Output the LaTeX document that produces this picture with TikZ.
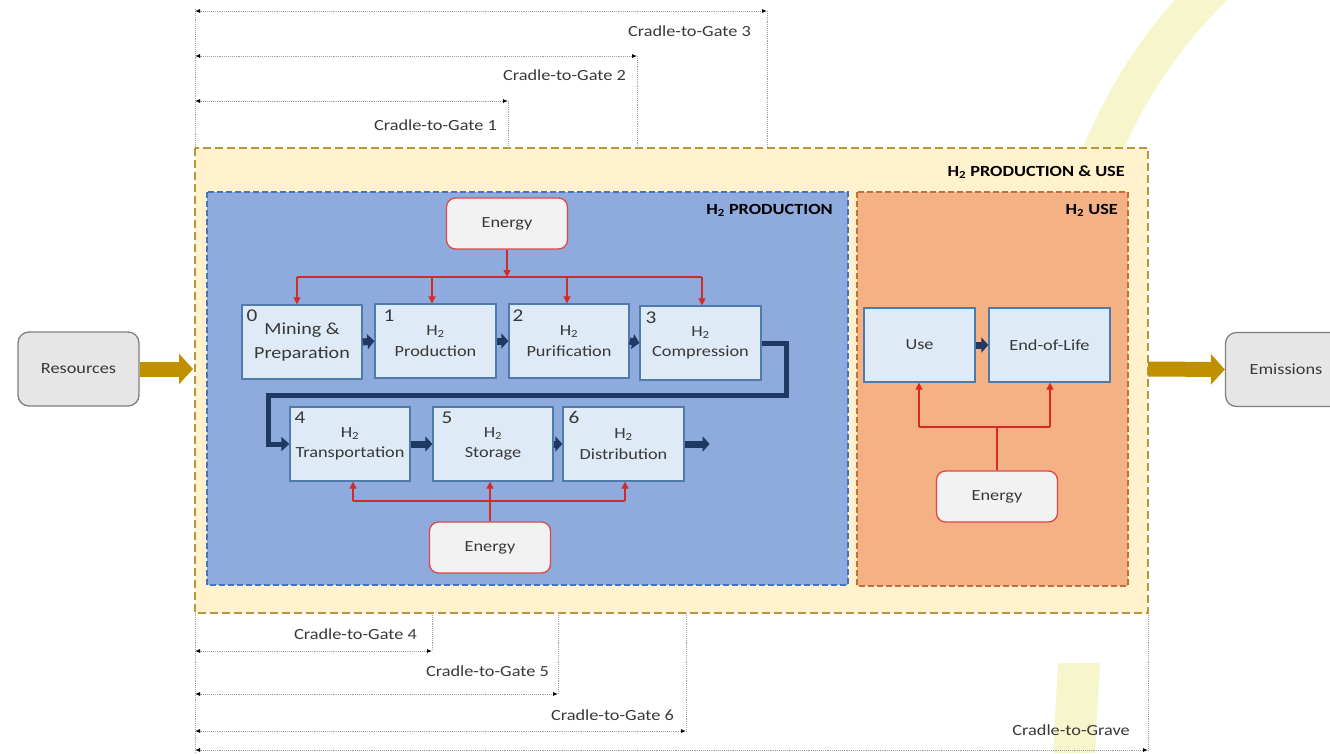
\documentclass[tikz,border=0pt]{standalone}
\usepackage{fontspec}
\setmainfont[FakeStretch=1.18]{Carlito}
\usetikzlibrary{arrows.meta,calc}
\definecolor{outerfill}{HTML}{FFF2CC}
\definecolor{outerline}{HTML}{B8963C}
\definecolor{bluefill}{HTML}{8FAADC}
\definecolor{blueline}{HTML}{4472C4}
\definecolor{orfill}{HTML}{F4B183}
\definecolor{orline}{HTML}{C0703A}
\definecolor{boxfill}{HTML}{DEEBF7}
\definecolor{boxline}{HTML}{4F7BAA}
\definecolor{enfill}{HTML}{F2F2F2}
\definecolor{enline}{HTML}{DC4848}
\definecolor{redln}{HTML}{D42A2A}
\definecolor{grayfill}{HTML}{E7E6E6}
\definecolor{grayline}{HTML}{7F7F7F}
\definecolor{gold}{HTML}{BF9000}
\definecolor{navy}{HTML}{1F3864}
\definecolor{txt}{HTML}{383838}
\definecolor{wm}{HTML}{F7F5CC}
\begin{document}
\begin{tikzpicture}[x=1pt,y=-1pt,
  every node/.style={font=\fontsize{15.5}{18.5}\selectfont, text=txt},
  procbox/.style={draw=boxline, line width=1.3pt, fill=boxfill, minimum height=74pt, inner sep=0pt, align=center, font=\fontsize{15.5}{20.5}\selectfont},
  numlbl/.style={anchor=north west, inner sep=0pt, font=\fontsize{18}{20}\selectfont, text=txt},
  enbox/.style={draw=enline, line width=1.3pt, fill=enfill, rounded corners=9pt, minimum width=121pt, minimum height=51pt},
  graybox/.style={draw=grayline, line width=1.3pt, fill=grayfill, rounded corners=11pt, minimum width=121pt, minimum height=74pt},
  redarrow/.style={draw=redln, line width=1.2pt, -{Triangle[width=7pt,length=7pt]}},
  redline/.style={draw=redln, line width=1.2pt},
  bluearrow/.style={draw=navy, line width=7pt, -{Triangle[width=15pt,length=7pt]}},
  goldarrow/.style={draw=gold, line width=15pt, -{Triangle[width=30pt,length=14pt]}},
  dimline/.style={draw=gray!75, line width=0.9pt, densely dotted},
  dimarrow/.style={dimline, {Latex[length=5pt,width=4pt,color=black]}-{Latex[length=5pt,width=4pt,color=black]}},
  dimlbl/.style={anchor=east, inner sep=0pt, text=txt, font=\fontsize{15.5}{18}\selectfont},
  hdr/.style={anchor=east, inner sep=0pt, text=black, font=\bfseries\fontsize{15.5}{18}\selectfont}
]
\useasboundingbox (0,0) rectangle (1330,753);
% faint background watermark shapes
\draw[wm, line width=38pt] (1098,160) .. controls (1128,90) and (1160,40) .. (1215,-15);
\fill[wm] (1058,663) -- (1100,663) -- (1095,753) -- (1053,753) -- cycle;

% containers
\draw[outerline, line width=1.2pt, dash pattern=on 8pt off 4pt, fill=outerfill] (195,148) rectangle (1148,613);
\draw[blueline, line width=1.2pt, dash pattern=on 6pt off 3pt, fill=bluefill] (207,192) rectangle (848,585);
\draw[orline, line width=1.2pt, dash pattern=on 6pt off 3pt, fill=orfill] (857,192) rectangle (1128,586);
\node[hdr] (hdrall) at (1125,172) {H\textsubscript{2} PRODUCTION \& USE};
\node[hdr] (hdrprod) at (833,210) {H\textsubscript{2} PRODUCTION};
\node[hdr] (hdruse) at (1118,210) {H\textsubscript{2} USE};

% process boxes
\node[procbox, minimum width=120pt, font=\fontsize{17}{24}\selectfont] (box0) at (302,342) {Mining \&\\Preparation};
\node[procbox, minimum width=121pt] (box1) at (435.5,341) {H\textsubscript{2}\\Production};
\node[procbox, minimum width=120pt] (box2) at (569,341) {H\textsubscript{2}\\Purification};
\node[procbox, minimum width=121pt] (box3) at (700.5,343) {H\textsubscript{2}\\Compression};
\node[procbox, minimum width=120pt] (box4) at (350,444) {H\textsubscript{2}\\Transportation};
\node[procbox, minimum width=120pt] (box5) at (493,444) {H\textsubscript{2}\\Storage};
\node[procbox, minimum width=121pt] (box6) at (623.5,444) {H\textsubscript{2}\\Distribution};
\node[numlbl] (n0) at ($(box0.north west)+(5,5)$) {0};
\node[numlbl] (n1) at ($(box1.north west)+(9,6)$) {1};
\node[numlbl] (n2) at ($(box2.north west)+(4,6)$) {2};
\node[numlbl] (n3) at ($(box3.north west)+(6,6)$) {3};
\node[numlbl] (n4) at ($(box4.north west)+(5,5)$) {4};
\node[numlbl] (n5) at ($(box5.north west)+(9,5)$) {5};
\node[numlbl] (n6) at ($(box6.north west)+(6,5)$) {6};

\node[procbox, minimum width=111pt] (use) at (919.5,345) {Use};
\node[procbox, minimum width=121pt] (eol) at (1049.5,345) {End-of-Life};

% energy boxes
\node[enbox] (etop) at (507,223.5) {Energy};
\node[enbox] (ebot) at (490,547.5) {Energy};
\node[enbox] (euse) at (997,496.5) {Energy};

% resources / emissions
\node[graybox] (res) at (78.5,369) {Resources};
\node[graybox] (emi) at (1286,369.5) {Emissions};

% flow arrows
\draw[bluearrow] (box0.east) -- (box1.west);
\draw[bluearrow] (box1.east) -- (box2.west);
\draw[bluearrow] (box2.east) -- (box3.west);
\draw[bluearrow] (box4.east) -- (box5.west);
\draw[bluearrow] (box5.east) -- (box6.west);
\draw[bluearrow] (use.east) -- (eol.west);
\draw[bluearrow] (box6.east) -- ++(25,0);
\draw[draw=navy, line width=5pt, -{Triangle[width=14pt,length=8pt]}, line join=miter]
  (box3.east) -- ++(25,0) -- ++(0,52) -- (268,395) |- (box4.west);

\draw[goldarrow] (res.east) -- (193,369);
\coordinate (outR) at (1148,369);
\draw[goldarrow] (outR) -- (emi.west);

% energy distribution (top)
\coordinate (jt) at (507,277);
\coordinate (j0) at (297,277);
\coordinate (j1) at (432,277);
\coordinate (j2) at (567,277);
\coordinate (j3) at (702,277);
\draw[redarrow] (etop.south) -- (jt);
\draw[redline] (j0) -- (j3);
\draw[redarrow] (j0) -- (j0 |- box0.north);
\draw[redarrow] (j1) -- (j1 |- box1.north);
\draw[redarrow] (j2) -- (j2 |- box2.north);
\draw[redarrow] (j3) -- (j3 |- box3.north);

% energy distribution (bottom)
\coordinate (k4) at (353,501);
\coordinate (k6) at (625,501);
\draw[redarrow] (ebot.north) -- (ebot.north |- box5.south);
\draw[redline] (k4) -- (k6);
\draw[redarrow] (k4) -- (k4 |- box4.south);
\draw[redarrow] (k6) -- (k6 |- box6.south);

% energy distribution (use)
\coordinate (u1) at (919,427);
\coordinate (u2) at (1050,427);
\draw[redline] (euse.north) -- (euse.north |- u1);
\draw[redline] (u1) -- (u2);
\draw[redarrow] (u1) -- (u1 |- use.south);
\draw[redarrow] (u2) -- (u2 |- eol.south);

% system boundaries (top)
\coordinate (L3) at (195,11);  \coordinate (R3) at (767,11);
\coordinate (L2) at (195,56);  \coordinate (R2) at (637,56);
\coordinate (L1) at (195,101); \coordinate (R1) at (508,101);
\draw[dimline] (195,9) -- (195,148);
\draw[dimline] (R3) -- (767,148);
\draw[dimline] (R2) -- (637,148);
\draw[dimline] (R1) -- (508,148);
\draw[dimarrow] (L3) -- (R3);
\draw[dimarrow] (L2) -- (R2);
\draw[dimarrow] (L1) -- (R1);
\node[dimlbl] (g3) at (751,31) {Cradle-to-Gate 3};
\node[dimlbl] (g2) at (626,75) {Cradle-to-Gate 2};
\node[dimlbl] (g1) at (497,125) {Cradle-to-Gate 1};

% system boundaries (bottom)
\coordinate (L4) at (195,651); \coordinate (R4) at (432,651);
\coordinate (L5) at (195,694); \coordinate (R5) at (558,694);
\coordinate (L6) at (195,731); \coordinate (R6) at (686,731);
\coordinate (LG) at (195,750); \coordinate (RG) at (1148,750);
\draw[dimline] (195,613) -- (195,752);
\draw[dimline] (432,613) -- (R4);
\draw[dimline] (558,613) -- (R5);
\draw[dimline] (686,613) -- (R6);
\draw[dimline] (1148,613) -- (RG);
\draw[dimarrow] (L4) -- (R4);
\draw[dimarrow] (L5) -- (R5);
\draw[dimarrow] (L6) -- (R6);
\draw[dimarrow] (LG) -- (RG);
\node[dimlbl] (g4) at (417,634) {Cradle-to-Gate 4};
\node[dimlbl] (g5) at (549,671) {Cradle-to-Gate 5};
\node[dimlbl] (g6) at (674,715) {Cradle-to-Gate 6};
\node[dimlbl] (gg) at (1130,730) {Cradle-to-Grave};
\end{tikzpicture}
\end{document}
